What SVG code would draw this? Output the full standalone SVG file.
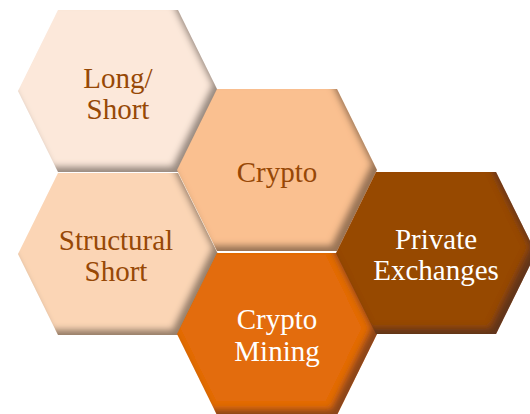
<svg xmlns="http://www.w3.org/2000/svg" xmlns:xlink="http://www.w3.org/1999/xlink" width="530" height="414" viewBox="0 0 530 414">
<style>
text{font-family:"Liberation Serif","Times New Roman",serif;font-size:29px;text-anchor:middle}
.dk{fill:#974806}
.wt{fill:#ffffff}
</style>
<defs>
<polygon id="hex" points="-100,0 -60,-81 60,-81 100,0 60,81 -60,81"/>
<filter id="bev" x="-10%" y="-10%" width="120%" height="120%">
<feGaussianBlur in="SourceAlpha" stdDeviation="3" result="b"/>
<feOffset in="b" dx="-6" dy="-6" result="o"/>
<feComposite in="SourceAlpha" in2="o" operator="out" result="edge"/>
<feFlood flood-color="#3a2a20" flood-opacity="0.7"/>
<feComposite in2="edge" operator="in" result="sh"/>
<feMerge><feMergeNode in="SourceGraphic"/><feMergeNode in="sh"/></feMerge>
</filter>
</defs>
<g id="connectors"/>
<g id="longshort">
<use xlink:href="#hex" x="118" y="91" fill="#FCE8DA" filter="url(#bev)"/>
<text class="dk" x="118" y="88">Long/</text>
<text class="dk" x="118" y="119">Short</text>
</g>
<g id="crypto">
<use xlink:href="#hex" x="277" y="170" fill="#FAC090" filter="url(#bev)"/>
<text class="dk" x="277" y="182">Crypto</text>
</g>
<g id="structural">
<use xlink:href="#hex" x="118" y="254" fill="#FBD5B5" filter="url(#bev)"/>
<text class="dk" x="116" y="250">Structural</text>
<text class="dk" x="116" y="281">Short</text>
</g>
<g id="mining">
<use xlink:href="#hex" x="277" y="334" fill="#E36C0A" filter="url(#bev)"/>
<text class="wt" x="277" y="329">Crypto</text>
<text class="wt" x="277" y="361">Mining</text>
</g>
<g id="private">
<use xlink:href="#hex" x="436" y="253" fill="#974806" filter="url(#bev)"/>
<text class="wt" x="436" y="249">Private</text>
<text class="wt" x="436" y="280">Exchanges</text>
</g>
</svg>
